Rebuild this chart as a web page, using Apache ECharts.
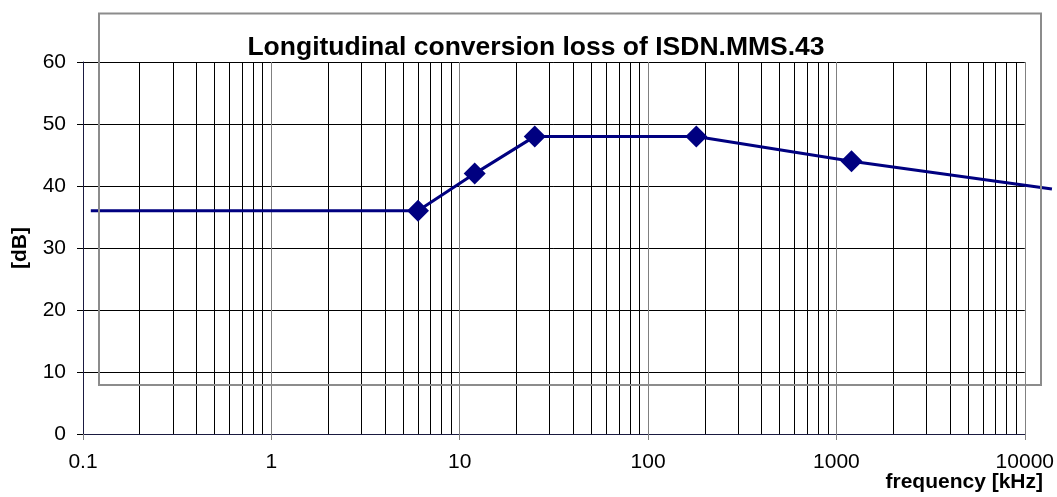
<!DOCTYPE html>
<html>
<head>
<meta charset="utf-8">
<script src="https://cdn.jsdelivr.net/npm/echarts@6/dist/echarts.min.js"></script>
<style>
  html, body { margin: 0; padding: 0; background: #fff; }
  #chart { width: 1057px; height: 497px; }
</style>
</head>
<body>
<div id="chart"></div>
<script>
// frequency [kHz] / loss [dB]
var freq = [0.11, 6, 12, 25, 180, 1200, 13900];
var loss = [36, 36, 42, 48, 48, 44, 39.5];
var markerShown = [false, true, true, true, true, true, false];
var yTicks = [0, 10, 20, 30, 40, 50, 60];
var decades = [0.1, 1, 10, 100, 1000, 10000];

var chart = echarts.init(document.getElementById('chart'));

var gridLeft = 83, gridRight = 32, gridTop = 62, gridBottom = 63;
var plotW = 1057 - gridLeft - gridRight;
var decadePx = plotW / (decades.length - 1);
// second (overlay) grid reaches nearly to the page edge so the line can run past 10000
var overRight = 5;
var overMax = 0.1 * Math.pow(10, (1057 - gridLeft - overRight) / decadePx);

// minor vertical grid lines 2..9 of each decade
var minorLines = [];
for (var d = 0; d < decades.length - 1; d++) {
    for (var m = 2; m <= 9; m++) {
        minorLines.push({ xAxis: +(decades[d] * m).toPrecision(3) });
    }
}

var seriesData = freq.map(function (f, i) {
    var p = { value: [f, loss[i]] };
    if (!markerShown[i]) p.symbol = 'none';
    return p;
});

var font = 'Liberation Sans, Arial, sans-serif';

var option = {
    animation: false,
    title: {
        text: 'Longitudinal conversion loss of ISDN.MMS.43',
        left: 531, top: 29, textAlign: 'center',
        textStyle: { fontFamily: font, fontSize: 26.5, fontWeight: 'bold', color: '#000' }
    },
    grid: [
        { left: gridLeft, right: gridRight, top: gridTop, bottom: gridBottom },
        { left: gridLeft, right: overRight, top: gridTop, bottom: gridBottom }
    ],
    xAxis: [{
        type: 'log', logBase: 10, min: 0.1, max: 10000, gridIndex: 0,
        axisLine: { lineStyle: { color: '#1a1a40', width: 1 } },
        axisTick: { show: true, length: 6, inside: false, lineStyle: { color: '#808080' } },
        axisLabel: {
            fontFamily: font, fontSize: 21, color: '#000', margin: 18,
            formatter: function (v) { return String(+v.toPrecision(3)); }
        },
        splitLine: { show: true, lineStyle: { color: '#808080', width: 1 } },
        minorTick: { show: false }
    }, {
        type: 'log', logBase: 10, min: 0.1, max: overMax, gridIndex: 1, show: false
    }],
    yAxis: [{
        type: 'value', min: 0, max: 60, interval: 10, gridIndex: 0,
        name: '[dB]', nameLocation: 'middle', nameRotate: 90, nameGap: 52,
        nameTextStyle: { fontFamily: font, fontSize: 21, fontWeight: 'bold', color: '#000' },
        axisLine: { show: true, lineStyle: { color: '#1a1a40', width: 1 } },
        axisTick: { show: true, length: 6, inside: false, lineStyle: { color: '#000' } },
        axisLabel: { fontFamily: font, fontSize: 21, color: '#000', margin: 17 },
        splitLine: { show: true, lineStyle: { color: '#000', width: 1 } }
    }, {
        type: 'value', min: 0, max: 60, interval: 10, gridIndex: 1, show: false
    }],
    graphic: [
        {
            type: 'rect', z: 100, silent: true,
            shape: { x: 99, y: 13.5, width: 942, height: 371.5 },
            style: { fill: 'none', stroke: '#8c8c8c', lineWidth: 2 }
        },
        {
            type: 'text', right: 14, top: 472,
            style: { text: 'frequency [kHz]', font: 'bold 21px ' + font, fill: '#000' }
        }
    ],
    series: [
        {
            type: 'line', silent: true, z: 1, xAxisIndex: 0, yAxisIndex: 0,
            data: [],
            markLine: {
                silent: true, symbol: 'none', label: { show: false },
                lineStyle: { color: '#000', width: 1, type: 'solid' },
                data: minorLines
            }
        },
        {
            type: 'line', z: 5, clip: false, xAxisIndex: 1, yAxisIndex: 1,
            data: seriesData,
            symbol: 'diamond', symbolSize: 22,
            lineStyle: { color: '#000080', width: 3 },
            itemStyle: { color: '#000080' }
        }
    ]
};

chart.setOption(option);
</script>
</body>
</html>
